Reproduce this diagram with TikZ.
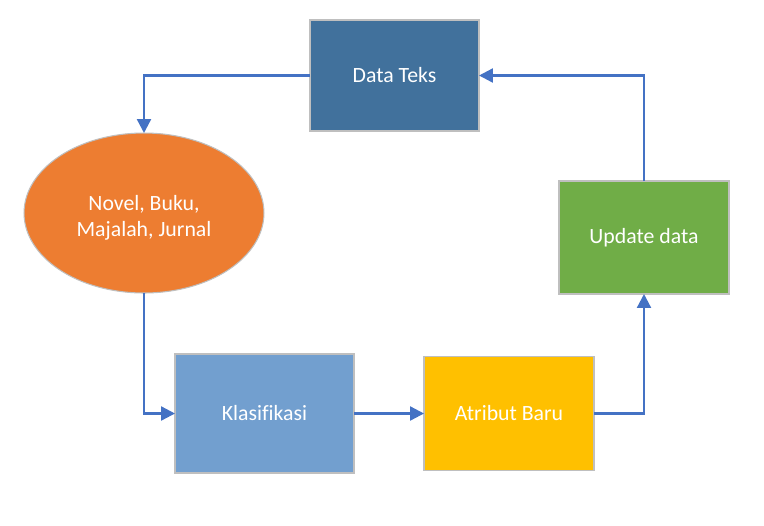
\documentclass[tikz,border=0pt]{standalone}
\usepackage{fontspec}
\setmainfont{Carlito}[Ligatures=NoCommon]
\usepackage{tikz}
\usetikzlibrary{shapes.geometric, arrows.meta}
\definecolor{tealblue}{HTML}{41719C}
\definecolor{lightblue}{HTML}{729FCF}
\definecolor{orangefill}{HTML}{ED7D31}
\definecolor{greenfill}{HTML}{70AD47}
\definecolor{goldfill}{HTML}{FFC000}
\definecolor{flowblue}{HTML}{4472C4}
\definecolor{rimgray}{HTML}{BFBFBF}

\begin{document}
\begin{tikzpicture}[font=\fontsize{12.4}{14.6}\selectfont, >={Triangle[length=0.28cm, width=0.28cm]}]
    \tikzset{
      box/.style={rectangle, draw=rimgray, line width=0.6pt, text=white, inner sep=0pt, outer sep=0pt},
      flow/.style={->, draw=flowblue, line width=1.3pt}
    }
    % ---------------- canvas, 0.02 cm per pixel, y downwards
    \begin{scope}[x=0.02cm, y=-0.02cm]
      \useasboundingbox (0,0) rectangle (764,525);
      % boxes
      \node[box, fill=tealblue, minimum width=3.38cm, minimum height=2.22cm] (teks) at (394.5,75.5) {Data Teks};
      \node[ellipse, draw=rimgray, line width=0.6pt, fill=orangefill, text=white, align=center,
            minimum width=4.8cm, minimum height=3.2cm, inner sep=0pt, outer sep=0pt] (sumber) at (144,213) {\rule{0pt}{14pt}Novel, Buku,\\Majalah, Jurnal};
      \node[box, fill=greenfill, minimum width=3.4cm, minimum height=2.26cm] (update) at (644,237.5) {Update data};
      \node[box, fill=lightblue, minimum width=3.58cm, minimum height=2.38cm] (klas) at (264.5,413.5) {Klasifikasi};
      \node[box, fill=goldfill, minimum width=3.4cm, minimum height=2.28cm] (atribut) at (509,413.5) {Atribut Baru};
      % connectors
      \draw[flow] (teks.west) -| (sumber.north);
      \draw[flow] (sumber.south) |- (klas.west);
      \draw[flow] (klas.east) -- (atribut.west);
      \draw[flow] (atribut.east) -| (update.south);
      \draw[flow] (update.north) |- (teks.east);
    \end{scope}
\end{tikzpicture}
\end{document}
